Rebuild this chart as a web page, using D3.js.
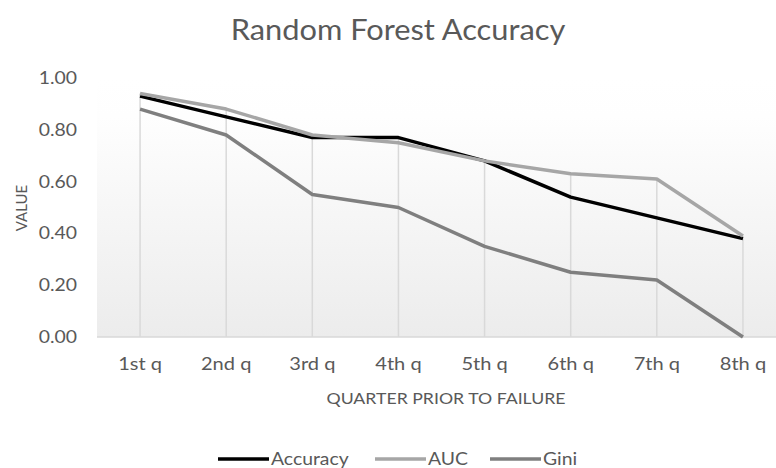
<!DOCTYPE html>
<html>
<head>
<meta charset="utf-8">
<script src="https://cdn.jsdelivr.net/npm/d3@7"></script>
<style>
  html, body { margin: 0; padding: 0; background: #ffffff; }
  svg { display: block; }
  text { font-family: Lato, "Open Sans", sans-serif; fill: #595959; }
  /* slightly widened lettering, stretched about each label's own anchor */
  .wide   { transform-box: fill-box; transform-origin: center; transform: scaleX(1.18); }
  .wide-t { transform-box: fill-box; transform-origin: center; transform: scaleX(1.1); }
  .wide-r { transform-box: fill-box; transform-origin: right center; transform: scaleX(1.14); }
  .wide-l { transform-box: fill-box; transform-origin: left center; transform: scaleX(1.14); }
</style>
</head>
<body>
<svg id="chart" width="776" height="468"></svg>
<script>
// Quarters before failure, in order along the x axis
const quarters = ["1st q", "2nd q", "3rd q", "4th q", "5th q", "6th q", "7th q", "8th q"];

// Model scores per quarter
const accuracy = [0.93, 0.85, 0.77, 0.77, 0.68, 0.54, 0.46, 0.38];
const auc      = [0.94, 0.88, 0.78, 0.75, 0.68, 0.63, 0.61, 0.39];
const gini     = [0.88, 0.78, 0.55, 0.50, 0.35, 0.25, 0.22, 0.00];

const yTicks = [0, 0.2, 0.4, 0.6, 0.8, 1.0];

const seriesNames  = ["Accuracy", "AUC", "Gini"];
const seriesColors = ["#000000", "#a6a6a6", "#7f7f7f"];

const series = [
  { name: seriesNames[0], values: accuracy, color: seriesColors[0] },
  { name: seriesNames[1], values: auc,      color: seriesColors[1] },
  { name: seriesNames[2], values: gini,     color: seriesColors[2] }
];

const svg = d3.select("#chart");
const plot = { left: 97, right: 786, top: 78, bottom: 337 };

const x = d3.scaleBand().domain(quarters).range([plot.left, plot.right]);
const y = d3.scaleLinear().domain([0, 1]).range([plot.bottom, plot.top]);

// Plot background: soft vertical gradient
const defs = svg.append("defs");
const grad = defs.append("linearGradient")
  .attr("id", "plotBg").attr("x1", 0).attr("y1", 0).attr("x2", 0).attr("y2", 1);
grad.append("stop").attr("offset", "0%").attr("stop-color", "#ffffff");
grad.append("stop").attr("offset", "15%").attr("stop-color", "#fefefe");
grad.append("stop").attr("offset", "100%").attr("stop-color", "#ececec");

svg.append("rect")
  .attr("x", plot.left).attr("y", plot.top)
  .attr("width", plot.right - plot.left).attr("height", plot.bottom - plot.top)
  .attr("fill", "url(#plotBg)");

// Drop lines from the highest point of each quarter down to the axis
const cx = q => x(q) + x.bandwidth() / 2;
svg.append("g").selectAll("line")
  .data(quarters)
  .join("line")
  .attr("x1", d => cx(d)).attr("x2", d => cx(d))
  .attr("y1", (d, i) => y(Math.max(accuracy[i], auc[i], gini[i])))
  .attr("y2", y(0))
  .attr("stroke", "#d9d9d9").attr("stroke-width", 1.5);

// Horizontal category axis line
svg.append("line")
  .attr("x1", plot.left).attr("x2", plot.right)
  .attr("y1", y(0)).attr("y2", y(0))
  .attr("stroke", "#d9d9d9").attr("stroke-width", 1.5);

// Y axis tick labels
const yAxis = d3.axisLeft(y).tickValues(yTicks).tickFormat(d3.format(".2f")).tickSize(0).tickPadding(20);
const gy = svg.append("g").attr("transform", `translate(${plot.left},0)`).call(yAxis);
gy.select(".domain").remove();
gy.selectAll("text").attr("class", "wide-r").style("font-size", "17px").attr("fill", "#595959");

// X axis tick labels
const xAxis = d3.axisBottom(x).tickSize(0).tickPadding(21);
const gx = svg.append("g").attr("transform", `translate(0,${plot.bottom})`).call(xAxis);
gx.select(".domain").remove();
gx.selectAll("text").attr("class", "wide").style("font-size", "17px").attr("fill", "#595959");

// Series lines
const line = d3.line()
  .x((d, i) => cx(quarters[i]))
  .y(d => y(d));

svg.append("g").selectAll("path")
  .data(series)
  .join("path")
  .attr("d", d => line(d.values))
  .attr("fill", "none")
  .attr("stroke", d => d.color)
  .attr("stroke-width", 3.5)
  .attr("stroke-linejoin", "round");

// Title
svg.append("text")
  .attr("class", "wide-t")
  .attr("x", 398).attr("y", 40)
  .attr("text-anchor", "middle")
  .style("font-size", "28px")
  .attr("fill", "#666666")
  .text("Random Forest Accuracy");

// Axis titles
svg.append("text")
  .attr("class", "wide")
  .attr("x", 446).attr("y", 404)
  .attr("text-anchor", "middle")
  .style("font-size", "15px")
  .text("QUARTER PRIOR TO FAILURE");

svg.append("text")
  .attr("transform", "translate(27,208) rotate(-90)")
  .attr("text-anchor", "middle")
  .style("font-size", "15px")
  .text("VALUE");

// Legend
const legendPos = [218, 375, 490];
const legend = svg.append("g").selectAll("g")
  .data(series)
  .join("g")
  .attr("transform", (d, i) => `translate(${legendPos[i]},459)`);
legend.append("line")
  .attr("x1", 0).attr("x2", 51).attr("y1", 0).attr("y2", 0)
  .attr("stroke", d => d.color).attr("stroke-width", 3.5);
legend.append("text")
  .attr("class", "wide-l")
  .attr("x", 53).attr("y", 6)
  .style("font-size", "17px")
  .text(d => d.name);
</script>
</body>
</html>
